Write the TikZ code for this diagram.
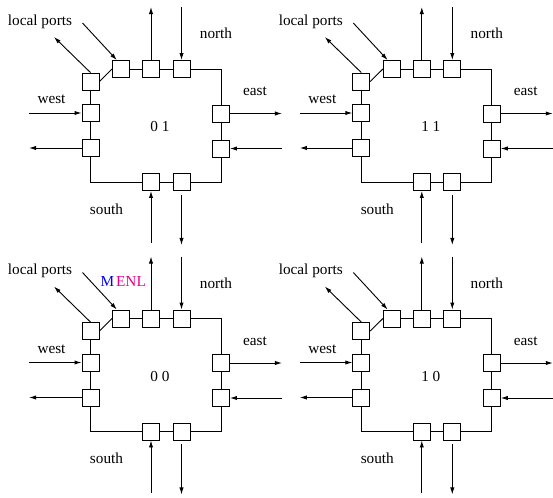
\documentclass[tikz,border=0pt]{standalone}
\usepackage{fontspec}
\setmainfont{Liberation Serif}
\usepackage{tikz}
\usetikzlibrary{arrows.meta,positioning,calc}
\tikzset{
  % Buffer boxes on the ring
  port/.style={draw,line width=0.6pt,fill=white,minimum size=11.1pt,inner sep=0pt},
  % Ring wires
  ring/.style={line width=0.6pt},
  % Connectors & labels
  fl/.style={-{Latex[length=4.6pt,width=2.8pt]},line width=0.6pt},
  lbl/.style={font=\fontsize{10}{12}\selectfont,inner sep=0pt}
}

\begin{document}
\begin{tikzpicture}[x=0.655pt,y=-0.655pt]
  \useasboundingbox (0,0) rectangle (553,497);

  \foreach \dx/\dy/\id/\lab in {0/0/a/0 1, 270.8/0/b/1 1, 0/249.5/c/0 0, 270.8/249.5/d/1 0}{
    \begin{scope}[shift={(\dx,\dy)}]
      % Ports
      \node[port] (loc\id) at (90.5,81.5) {};
      \node[port] (n1\id)  at (121,69)    {};
      \node[port] (n2\id)  at (151,69)    {};
      \node[port] (n3\id)  at (181.5,69)  {};
      \node[port] (e1\id)  at (221,113.5) {};
      \node[port] (e2\id)  at (221,148.5) {};
      \node[port] (w1\id)  at (90.5,113)  {};
      \node[port] (w2\id)  at (90.5,148)  {};
      \node[port] (s1\id)  at (151,182)   {};
      \node[port] (s2\id)  at (181.5,182) {};

      % Corners and free ends
      \coordinate (ne\id)   at (221,69);
      \coordinate (se\id)   at (221,182);
      \coordinate (sw\id)   at (90.5,182);
      \coordinate (nout\id) at (151,7);
      \coordinate (nin\id)  at (181.5,7);
      \coordinate (eout\id) at (282,113.5);
      \coordinate (ein\id)  at (282,148.5);
      \coordinate (win\id)  at (29,113);
      \coordinate (wout\id) at (29,148);
      \coordinate (sin\id)  at (151,243);
      \coordinate (sout\id) at (181.5,245);
      \coordinate (lin\id)  at (82.5,23);
      \coordinate (lout\id) at (54,37);

      % Labels
      \node[lbl] (tloc\id)   at (40,21.5)   {local ports};
      \node[lbl] (tnorth\id) at (216,33.5)  {north};
      \node[lbl] (teast\id)  at (255,91.5)  {east};
      \node[lbl] (twest\id)  at (51.5,99.5) {west};
      \node[lbl] (tsouth\id) at (106.5,209) {south};
      \node[lbl] (tid\id)    at (160,126.5) {\lab};

      % Ring
      \draw[ring] (loc\id.south) -- (w1\id.north);
      \draw[ring] (w1\id.south) -- (w2\id.north);
      \draw[ring] (w2\id.south) -- (sw\id) -- (s1\id.west);
      \draw[ring] (s1\id.east) -- (s2\id.west);
      \draw[ring] (s2\id.east) -- (se\id) -- (e2\id.south);
      \draw[ring] (e2\id.north) -- (e1\id.south);
      \draw[ring] (e1\id.north) -- (ne\id) -- (n3\id.east);
      \draw[ring] (n3\id.west) -- (n2\id.east);
      \draw[ring] (n2\id.west) -- (n1\id.east);
      \draw[ring] (loc\id.east) -- (n1\id.west);

      % Links
      \draw[fl] (n2\id.north) -- (nout\id);
      \draw[fl] (nin\id) -- (n3\id.north);
      \draw[fl] (e1\id.east) -- (eout\id);
      \draw[fl] (ein\id) -- (e2\id.east);
      \draw[fl] (win\id) -- (w1\id.west);
      \draw[fl] (w2\id.west) -- (wout\id);
      \draw[fl] (sin\id) -- (s1\id.south);
      \draw[fl,shorten <=2.5pt] (s2\id.south) -- (sout\id);
      \draw[fl] (lin\id) -- (n1\id.115);
      \draw[fl] (loc\id.north) -- (lout\id);
    \end{scope}
  }

  % Message type tags
  \node[lbl,text=blue]    (tm)   at (107.3,281) {M};
  \node[lbl,text=magenta] (tenl) at (131,281)   {ENL};
\end{tikzpicture}
\end{document}
